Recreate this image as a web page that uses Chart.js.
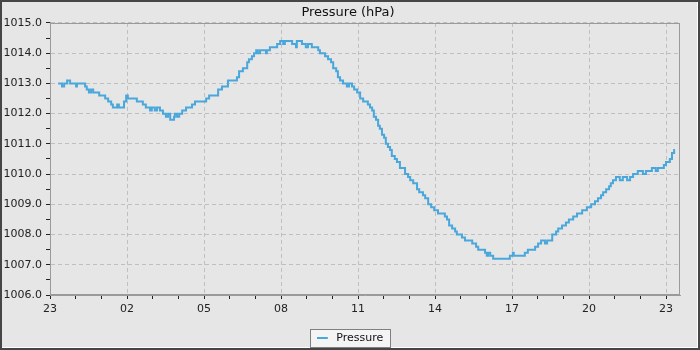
<!DOCTYPE html>
<html>
<head>
<meta charset="utf-8">
<title>Pressure</title>
<script src="https://cdn.jsdelivr.net/npm/chart.js@4.4.1/dist/chart.umd.min.js"></script>
<style>
  html, body { margin: 0; padding: 0; background: #e6e6e6; }
  canvas { display: block; }
</style>
</head>
<body>
<canvas id="c" width="700" height="350"></canvas>
<script>
// minutes after 23:00 at which the reading changed, and the new reading (hPa)
const MINUTES = [
  19, 28, 33, 40, 47, 61, 63, 82, 86, 91, 96, 101, 115, 129, 136, 143, 147, 157, 161, 173,
  178, 182, 203, 217, 224, 234, 238, 245, 250, 257, 264, 271, 276, 281, 290, 292, 297, 302, 309, 318,
  332, 339, 365, 372, 393, 402, 416, 437, 442, 451, 461, 465, 472, 477, 482, 486, 491, 505, 507, 514,
  531, 538, 545, 549, 566, 575, 577, 589, 598, 603, 612, 627, 631, 643, 650, 657, 662, 669, 673, 678,
  685, 694, 699, 706, 711, 718, 725, 732, 743, 748, 753, 757, 762, 767, 771, 776, 781, 785, 790, 795,
  799, 806, 811, 818, 830, 837, 842, 849, 858, 863, 872, 877, 884, 891, 898, 907, 923, 928, 933, 940,
  947, 951, 963, 970, 987, 996, 1001, 1017, 1021, 1024, 1029, 1036, 1075, 1082, 1084, 1110, 1117, 1134, 1141, 1148,
  1157, 1162, 1174, 1183, 1188, 1197, 1206, 1213, 1223, 1232, 1244, 1255, 1265, 1274, 1281, 1288, 1293, 1300, 1307, 1311,
  1316, 1323, 1332, 1339, 1349, 1356, 1363, 1374, 1386, 1393, 1407, 1416, 1421, 1435, 1440, 1449, 1454, 1459, 1461
];
const PRESSURE = [
  1013.0, 1012.9, 1013.0, 1013.1, 1013.0, 1012.9, 1013.0, 1012.9, 1012.8, 1012.7, 1012.8, 1012.7, 1012.6, 1012.5, 1012.4, 1012.3, 1012.2, 1012.3, 1012.2, 1012.4,
  1012.6, 1012.5, 1012.4, 1012.3, 1012.2, 1012.1, 1012.2, 1012.1, 1012.2, 1012.1, 1012.0, 1011.9, 1012.0, 1011.8, 1011.9, 1012.0, 1011.9, 1012.0, 1012.1, 1012.2,
  1012.3, 1012.4, 1012.5, 1012.6, 1012.8, 1012.9, 1013.1, 1013.2, 1013.4, 1013.5, 1013.7, 1013.8, 1013.9, 1014.0, 1014.1, 1014.0, 1014.1, 1014.0, 1014.1, 1014.2,
  1014.3, 1014.4, 1014.3, 1014.4, 1014.3, 1014.2, 1014.4, 1014.3, 1014.2, 1014.3, 1014.2, 1014.1, 1014.0, 1013.9, 1013.8, 1013.7, 1013.5, 1013.4, 1013.2, 1013.1,
  1013.0, 1012.9, 1013.0, 1012.9, 1012.8, 1012.7, 1012.5, 1012.4, 1012.3, 1012.2, 1012.1, 1011.9, 1011.8, 1011.6, 1011.5, 1011.3, 1011.2, 1011.0, 1010.9, 1010.8,
  1010.6, 1010.5, 1010.4, 1010.2, 1010.0, 1009.9, 1009.8, 1009.7, 1009.5, 1009.4, 1009.3, 1009.2, 1009.0, 1008.9, 1008.8, 1008.7, 1008.6, 1008.5, 1008.3, 1008.2,
  1008.1, 1008.0, 1007.9, 1007.8, 1007.7, 1007.6, 1007.5, 1007.4, 1007.3, 1007.4, 1007.3, 1007.2, 1007.3, 1007.4, 1007.3, 1007.4, 1007.5, 1007.6, 1007.7, 1007.8,
  1007.7, 1007.8, 1008.0, 1008.1, 1008.2, 1008.3, 1008.4, 1008.5, 1008.6, 1008.7, 1008.8, 1008.9, 1009.0, 1009.1, 1009.2, 1009.3, 1009.4, 1009.5, 1009.6, 1009.7,
  1009.8, 1009.9, 1009.8, 1009.9, 1009.8, 1009.9, 1010.0, 1010.1, 1010.0, 1010.1, 1010.2, 1010.1, 1010.2, 1010.3, 1010.4, 1010.5, 1010.7, 1010.8, 1010.8
];
const START_HOUR = 23;
const X_MAX_H = 24.545;       // right edge of the plot, hours after start
const Y_MIN = 1006, Y_MAX = 1015;

const LINE = '#4aa7db';
const BG = '#e6e6e6';
const GRID = '#bfbfbf';
const FRAME = '#9a9a9a';
const TICK = '#222';
const FONT = 'DejaVu Sans';

const isWhole = v => Math.abs(v - Math.round(v)) < 1e-6;
const pad2 = n => String(n).padStart(2, '0');

// legend symbol: short line with some empty room after it
const sym = document.createElement('canvas');
sym.width = 14; sym.height = 4;
const sctx = sym.getContext('2d');
sctx.fillStyle = LINE;
sctx.fillRect(0, 1, 11, 2);

// background, window frame and the boxed legend
const frame = {
  id: 'frame',
  afterLayout(chart) {
    const lg = chart.legend;
    lg.left += 9; lg.right += 9;
    lg.top += 3.5; lg.bottom += 3.5;
    const tb = chart.titleBlock;
    tb.left += 7; tb.right += 7;
    tb.top += 1; tb.bottom += 1;
  },
  beforeDraw(chart) {
    const { ctx, width, height } = chart;
    ctx.save();
    ctx.fillStyle = '#464646';
    ctx.fillRect(0, 0, width, height);
    ctx.fillStyle = '#ffffff';
    ctx.fillRect(2, 2, width - 4, height - 4);
    ctx.fillStyle = BG;
    ctx.fillRect(2, 2, width - 5, height - 5);
    const hb = chart.legend.legendHitBoxes[0];
    if (hb) {
      const x = Math.round(hb.left - 7), y = Math.round(hb.top - 3.5);
      const w = Math.round(hb.width + 14), h = Math.round(hb.height + 7);
      ctx.fillStyle = '#f4f4f4';
      ctx.fillRect(x, y, w, h);
      ctx.strokeStyle = '#808080';
      ctx.lineWidth = 1;
      ctx.strokeRect(x + 0.5, y + 0.5, w, h);
    }
    ctx.restore();
  },
  beforeDatasetsDraw(chart) {
    const { ctx, chartArea: a } = chart;
    ctx.save();
    ctx.strokeStyle = FRAME;
    ctx.lineWidth = 1;
    ctx.strokeRect(Math.round(a.left) + 0.5, Math.round(a.top) + 0.5,
      Math.round(a.right - a.left) - 1, Math.round(a.bottom - a.top) - 1);
    ctx.restore();
  }
};

new Chart(document.getElementById('c'), {
  type: 'line',
  data: {
    datasets: [{
      label: 'Pressure',
      data: MINUTES.map((m, i) => ({ x: m / 60, y: PRESSURE[i] })),
      borderColor: LINE,
      backgroundColor: LINE,
      borderWidth: 2,
      stepped: true,
      pointRadius: 0,
      fill: false
    }]
  },
  options: {
    responsive: false,
    animation: false,
    layout: { padding: { left: 2, right: 20, top: 0, bottom: 0 } },
    plugins: {
      title: {
        display: true, text: 'Pressure (hPa)', color: '#111',
        font: { family: FONT, size: 13, weight: 'normal', lineHeight: 1.15 },
        padding: { top: 4, bottom: 4 }
      },
      legend: {
        position: 'bottom',
        labels: {
          usePointStyle: true, pointStyle: sym, pointStyleWidth: 14, padding: 5,
          color: '#111', font: { family: FONT, size: 11 }
        }
      },
      tooltip: { enabled: false }
    },
    scales: {
      x: {
        type: 'linear', min: 0, max: X_MAX_H,
        afterFit: s => { s.height = 29; },
        grid: {
          color: c => (c.tick && c.tick.value % 3 === 0) ? GRID : 'rgba(0,0,0,0)',
          tickColor: TICK, tickLength: 4, lineWidth: 1
        },
        border: { display: true, color: FRAME, dash: [4, 3] },
        ticks: {
          stepSize: 1, includeBounds: false, autoSkip: false, maxRotation: 0,
          color: TICK, font: { family: FONT, size: 11 }, padding: 4,
          callback: v => v % 3 === 0 ? pad2((START_HOUR + v) % 24) : ''
        }
      },
      y: {
        min: Y_MIN, max: Y_MAX,
        afterFit: s => { s.width = 48; },
        grid: {
          color: c => (c.tick && isWhole(c.tick.value)) ? GRID : 'rgba(0,0,0,0)',
          tickColor: TICK, tickLength: 4, lineWidth: 1
        },
        border: { display: true, color: FRAME, dash: [4, 3] },
        ticks: {
          stepSize: 0.5, autoSkip: false,
          color: TICK, font: { family: FONT, size: 11 }, padding: 4,
          callback: v => isWhole(v) ? v.toFixed(1) : ''
        }
      }
    }
  },
  plugins: [frame]
});
</script>
</body>
</html>
